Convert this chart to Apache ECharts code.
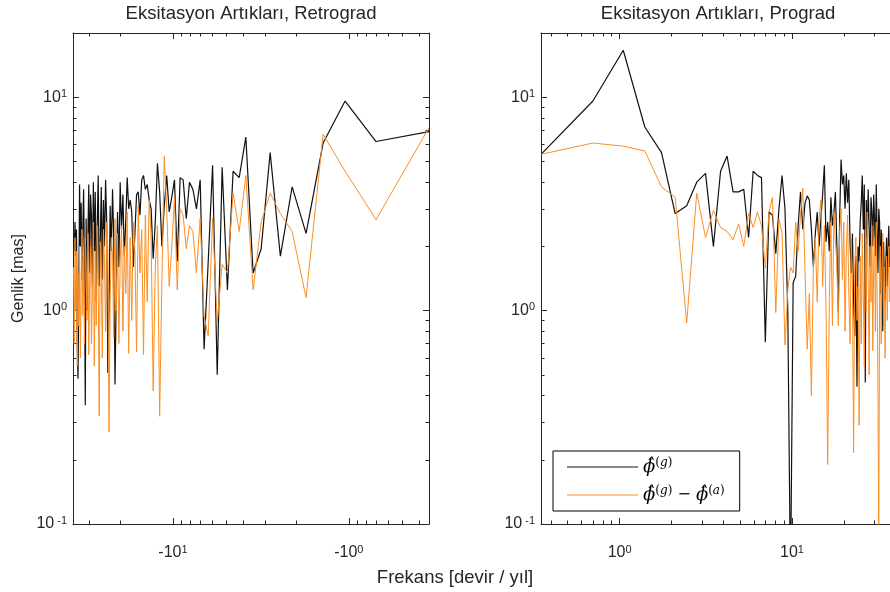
<!DOCTYPE html>
<html>
<head>
<meta charset="utf-8">
<title>Eksitasyon Artıkları</title>
<script src="https://cdn.jsdelivr.net/npm/echarts@6/dist/echarts.min.js"></script>
<style>
  html, body { margin: 0; padding: 0; background: #fff; }
  #main { width: 890px; height: 592px; }
</style>
</head>
<body>
<div id="main"></div>
<script>
// frekans adimi (devir / yil); noktalar k*DF, k = 1..105 (FFT izgarasi)
var DF = 0.35;

// sol panel: retrograd, |f| ile (eksen ters cevrilir)
var retroG = [
  6.9, 6.2, 9.6, 6.1, 2.3, 3.8, 1.8, 5.5, 1.95, 1.5,
  6.5, 4.2, 4.5, 1.25, 4.7, 0.5, 4.8, 1.7, 0.66, 4.1,
  3.0, 3.7, 4.0, 2.7, 4.1, 4.2, 1.7, 4.1, 3.4, 2.9,
  4.3, 3.1, 2.0, 3.6, 4.9, 2.6, 1.75, 3.0, 3.3, 3.9,
  3.7, 4.3, 4.1, 2.8, 3.6, 3.5, 2.3, 1.6, 2.9, 3.3,
  3.0, 4.2, 2.6, 1.8, 3.5, 2.4, 4.0, 1.6, 2.9, 1.2,
  0.45, 2.2, 3.7, 1.9, 3.1, 1.0, 0.51, 2.6, 4.1, 2.0,
  3.3, 1.4, 3.8, 2.1, 1.3, 4.3, 2.5, 1.1, 3.6, 1.9,
  4.0, 1.3, 2.8, 3.5, 1.5, 3.9, 2.2, 1.0, 2.7, 0.36,
  1.6, 3.7, 2.4, 1.4, 3.2, 2.0, 3.9, 1.2, 0.48, 0.7,
  2.4, 1.8, 2.6, 1.9, 2.3
];
var retroGA = [
  7.2, 2.67, 4.5, 6.7, 1.15, 2.35, 2.85, 3.55, 2.6, 1.25,
  4.3, 2.35, 3.55, 1.5, 1.65, 0.88, 2.7, 0.76, 0.94, 2.7,
  1.5, 2.35, 2.5, 1.95, 2.8, 3.0, 1.25, 3.4, 2.0, 1.3,
  3.0, 5.3, 1.4, 0.32, 2.5, 1.6, 0.42, 2.2, 3.3, 1.1,
  2.8, 0.62, 2.4, 1.5, 3.1, 0.64, 1.9, 2.6, 0.9, 2.2,
  0.63, 2.9, 1.2, 2.0, 0.8, 2.5, 1.7, 0.7, 2.3, 1.0,
  2.7, 0.75, 1.8, 2.2, 1.1, 0.27, 1.9, 2.6, 0.8, 1.7,
  2.4, 0.6, 1.5, 2.1, 0.32, 1.3, 2.5, 0.85, 1.9, 0.55,
  2.6, 1.2, 0.7, 2.0, 1.4, 0.62, 2.3, 0.9, 1.6, 2.2,
  0.7, 1.8, 0.95, 2.4, 1.3, 0.6, 2.0, 0.85, 1.5, 0.55,
  1.9, 1.0, 2.2, 0.7, 1.6
];

// sag panel: prograd
var progG = [
  5.4, 9.6, 16.6, 7.25, 5.5, 2.85, 3.1, 4.0, 4.4, 2.0,
  4.5, 5.3, 3.6, 3.6, 3.7, 2.2, 4.5, 4.3, 4.2, 0.71,
  2.9, 2.8, 1.85, 3.0, 4.3, 3.0, 1.0, 0.05, 1.35, 1.45,
  2.5, 3.6, 2.4, 3.2, 3.45, 3.3, 2.4, 1.6, 2.3, 2.9,
  2.0, 2.7, 3.5, 4.8, 2.1, 2.6, 1.9, 3.4, 2.5, 2.9,
  3.6, 2.0, 0.98, 2.8, 5.1, 3.9, 4.3, 3.0, 4.4, 3.2,
  4.1, 2.1, 1.5, 2.3, 1.1, 0.76, 1.8, 0.44, 2.0, 1.7,
  2.6, 3.2, 4.3, 2.4, 3.9, 0.46, 3.3, 2.2, 3.7, 2.5,
  1.6, 3.4, 2.9, 2.0, 3.5, 2.7, 1.8, 3.9, 2.3, 1.5,
  3.0, 2.6, 1.2, 2.4, 1.9, 0.8, 2.1, 1.4, 1.1, 1.7,
  2.2, 1.3, 1.9, 2.5, 1.6
];
var progGA = [
  5.4, 6.1, 5.9, 5.6, 3.8, 3.4, 0.875, 3.55, 2.2, 2.95,
  2.45, 2.35, 2.15, 2.55, 2.0, 2.85, 2.45, 2.9, 2.5, 1.58,
  2.9, 3.4, 0.98, 2.7, 2.3, 0.69, 1.25, 1.6, 1.5, 2.6,
  1.9, 2.8, 3.75, 1.5, 0.66, 1.2, 0.4, 1.6, 2.2, 1.1,
  2.7, 3.3, 1.3, 2.5, 1.0, 0.19, 1.1, 2.6, 0.85, 2.9,
  2.1, 1.7, 0.85, 2.4, 3.0, 1.4, 2.6, 0.8, 1.9, 2.8,
  1.2, 0.7, 2.1, 1.4, 0.216, 1.6, 2.2, 0.9, 1.3, 0.29,
  1.8, 0.7, 2.3, 1.2, 0.55, 2.4, 1.0, 2.9, 1.4, 0.5,
  2.0, 1.1, 2.5, 0.65, 1.6, 2.2, 0.8, 2.6, 1.2, 0.45,
  0.08, 1.3, 2.0, 0.7, 1.5, 2.3, 0.9, 1.6, 0.6, 1.2,
  1.8, 0.9, 1.4, 2.0, 1.1
];

// eksen sinirlari ve tikler
var xRange = [0.35, 37];
var yRange = [0.1, 20];
var xMajor = [1, 10];
var xMinor = [0.4, 0.5, 0.6, 0.7, 0.8, 0.9, 2, 3, 4, 5, 6, 7, 8, 9, 20, 30];
var yMajor = [0.1, 1, 10];
var yMinor = [0.2, 0.3, 0.4, 0.5, 0.6, 0.7, 0.8, 0.9, 2, 3, 4, 5, 6, 7, 8, 9];

var titles = ['Eksitasyon Artıkları, Retrograd', 'Eksitasyon Artıkları, Prograd'];
var names = ['g', 'ga'];

var AX = '#262626';
var FONT = 'Liberation Sans';

function pairs(vals) {
  var out = [];
  for (var i = 0; i < vals.length; i++) out.push([(i + 1) * DF, vals[i]]);
  return out;
}

function powLabel(prefix) {
  return function (v) {
    var n = Math.round(Math.log10(v));
    if (n < 0) return prefix + '{n|' + n + '}';
    return prefix + '{s|' + n + '}';
  };
}

var supRich = {
  s: { fontSize: 11, lineHeight: 10, verticalAlign: 'top', fontFamily: FONT, color: AX },
  n: { fontSize: 11, lineHeight: 10, verticalAlign: 'top', fontFamily: FONT, color: AX, padding: [0, 0, 0, 3] }
};

// bir kenar icin iki eksen: ana tikler (+etiket) ve ara tikler
function sideAxes(gridIndex, pos, range, major, minor, inverse, label, noTicks) {
  var base = {
    type: 'log', logBase: 10, gridIndex: gridIndex, position: pos,
    min: range[0], max: range[1], inverse: inverse,
    splitLine: { show: false }
  };
  var a = Object.assign({}, base, {
    axisLine: { show: true, lineStyle: { color: AX, width: 1 } },
    axisTick: { show: !noTicks, inside: true, length: 6, customValues: major, lineStyle: { color: AX } },
    axisLabel: label ? Object.assign({ show: true, customValues: major, color: AX,
      fontFamily: FONT, fontSize: 16, lineHeight: 18, rich: supRich }, label) : { show: false }
  });
  var b = Object.assign({}, base, {
    axisLine: { show: false },
    axisTick: { show: !noTicks, inside: true, length: 3.5, customValues: minor, lineStyle: { color: AX } },
    axisLabel: { show: false }
  });
  return [a, b];
}

var xAxes = [].concat(
  sideAxes(0, 'bottom', xRange, xMajor, xMinor, true, { formatter: powLabel('-10'), margin: 20 }),
  sideAxes(0, 'top', xRange, xMajor, xMinor, true, null),
  sideAxes(1, 'bottom', xRange, xMajor, xMinor, false, { formatter: powLabel('10'), margin: 20 }),
  sideAxes(1, 'top', xRange, xMajor, xMinor, false, null)
);
var yAxes = [].concat(
  sideAxes(0, 'left', yRange, yMajor, yMinor, false, { formatter: powLabel('10'), margin: 6 }),
  sideAxes(0, 'right', yRange, yMajor, yMinor, false, null),
  sideAxes(1, 'left', yRange, yMajor, yMinor, false, { formatter: powLabel('10'), margin: 6 }),
  // sag panelin sag kenari resmin disinda kaliyor
  sideAxes(1, 'right', yRange, yMajor, yMinor, false, null, true)
);
yAxes[0].name = 'Genlik [mas]';
yAxes[0].nameLocation = 'middle';
yAxes[0].nameRotate = 90;
yAxes[0].nameGap = 46;
yAxes[0].nameTextStyle = { fontFamily: FONT, fontSize: 16, color: AX };

function lineSeries(name, vals, idx, color, w) {
  return {
    name: name, type: 'line', data: pairs(vals),
    xAxisIndex: idx, yAxisIndex: idx,
    symbol: 'none', clip: true,
    lineStyle: { color: color, width: w },
    itemStyle: { color: color }
  };
}

var BLACK = '#111111', ORANGE = '#fb8f24';
var SERIF = 'DejaVu Serif';

var myChart = echarts.init(document.getElementById('main'), null, { renderer: 'canvas' });
var option = {
  animation: false,
  backgroundColor: '#ffffff',
  title: [
    { text: titles[0], left: 251, top: 4, padding: 0, textAlign: 'center',
      textStyle: { fontFamily: FONT, fontSize: 18.5, fontWeight: 'normal', color: AX } },
    { text: titles[1], left: 718, top: 4, padding: 0, textAlign: 'center',
      textStyle: { fontFamily: FONT, fontSize: 18.5, fontWeight: 'normal', color: AX } },
    { text: 'Frekans [devir / yıl]', left: 455, top: 568, padding: 0, textAlign: 'center',
      textStyle: { fontFamily: FONT, fontSize: 18.5, fontWeight: 'normal', color: AX } }
  ],
  grid: [
    { left: 73, right: 461, top: 33, bottom: 68 },
    { left: 541, right: -4, top: 33, bottom: 68 }
  ],
  legend: {
    data: names,
    orient: 'vertical',
    left: 553, top: 451,
    padding: [6, 15, 7, 14],
    itemGap: 9,
    itemWidth: 71, itemHeight: 1.2,
    icon: 'rect',
    borderColor: '#000', borderWidth: 1,
    backgroundColor: '#fff',
    selectedMode: false,
    formatter: function (name) {
      var hat = '{i|\u03D5\u0302}';
      if (name === 'g') return hat + '{p|(}{q|g}{p|)}';
      return hat + '{p|(}{q|g}{p|)}{m| \u2212 }' + hat + '{p|(}{q|a}{p|)}';
    },
    textStyle: {
      color: '#000',
      rich: {
        i: { fontFamily: SERIF, fontStyle: 'italic', fontSize: 18, lineHeight: 20, color: '#000' },
        p: { fontFamily: SERIF, fontSize: 12, lineHeight: 12, verticalAlign: 'top', color: '#000' },
        q: { fontFamily: SERIF, fontStyle: 'italic', fontSize: 12, lineHeight: 12, verticalAlign: 'top', color: '#000' },
        m: { fontFamily: SERIF, fontSize: 16, lineHeight: 20, color: '#000' }
      }
    }
  },
  xAxis: xAxes,
  yAxis: yAxes,
  series: [
    lineSeries('g', retroG, 0, BLACK, 1.2),
    lineSeries('ga', retroGA, 0, ORANGE, 1),
    lineSeries('g', progG, 4, BLACK, 1.2),
    lineSeries('ga', progGA, 4, ORANGE, 1)
  ]
};
myChart.setOption(option);
</script>
</body>
</html>
